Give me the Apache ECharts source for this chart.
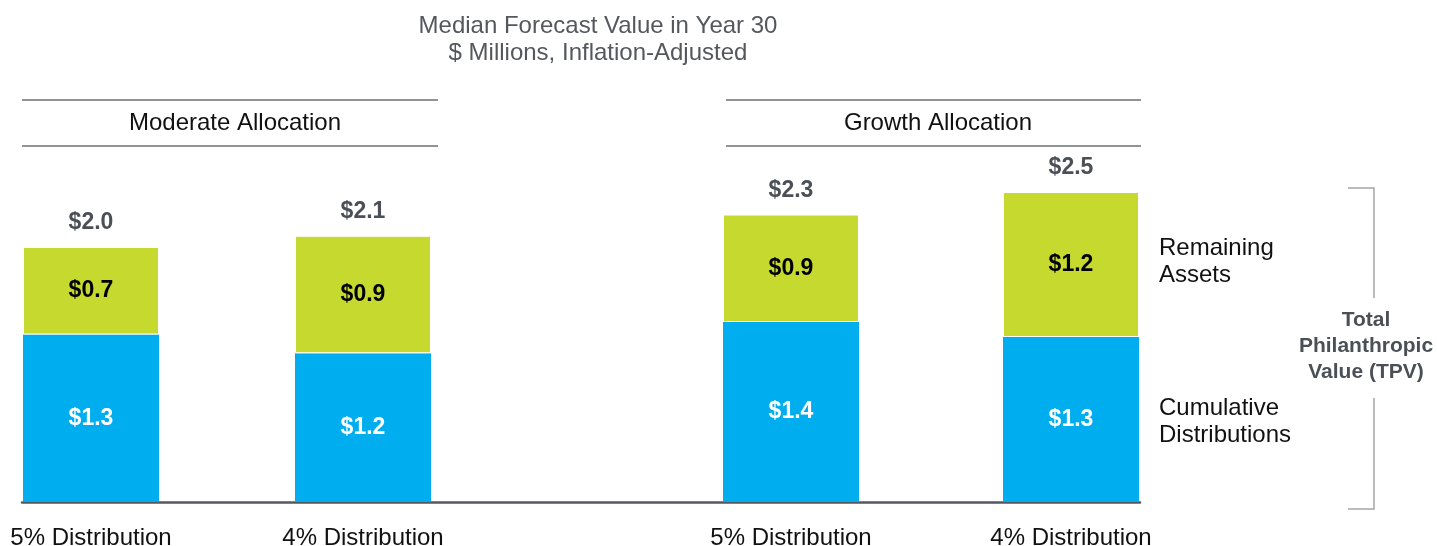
<!DOCTYPE html>
<html>
<head>
<meta charset="utf-8">
<script src="https://cdn.jsdelivr.net/npm/echarts@6/dist/echarts.min.js"></script>
<style>
  html, body { margin: 0; padding: 0; background: #fff; }
  #chart { width: 1437px; height: 546px; }
</style>
</head>
<body>
<div id="chart"></div>
<script>
  // data ($ millions)
  const categories = ['5% Distribution', '4% Distribution']
  const groups = ['Moderate Allocation', 'Growth Allocation']
  const cumulative = [[1.34, 1.19], [1.44, 1.32]]
  const remaining = [[0.70, 0.94], [0.86, 1.16]]

  const BLUE = '#00aeef'
  const GREEN = '#c6d92e'
  const GREY = '#4b5056'
  const FONT = 'Liberation Sans, Arial, sans-serif'

  const chart = echarts.init(document.getElementById('chart'))

  const money = (v) => '$' + v.toFixed(1)

  let series = []
  groups.forEach((g, gi) => {
    const totals = cumulative[gi].map((v, i) => +(v + remaining[gi][i]).toFixed(2))
    series.push({
      name: 'Cumulative Distributions',
      type: 'bar',
      stack: 'tpv' + gi,
      xAxisIndex: gi,
      yAxisIndex: gi,
      barWidth: 136,
      clip: false,
      itemStyle: { color: BLUE },
      label: {
        show: true,
        position: 'inside',
        formatter: (p) => money(p.value),
        color: '#fff',
        fontSize: 23,
        fontWeight: 'bold',
        fontFamily: FONT
      },
      data: cumulative[gi]
    })
    series.push({
      name: 'Remaining Assets',
      type: 'bar',
      stack: 'tpv' + gi,
      xAxisIndex: gi,
      yAxisIndex: gi,
      barWidth: 136,
      clip: false,
      itemStyle: { color: GREEN, borderColor: '#fff', borderWidth: 1 },
      label: {
        show: true,
        position: 'inside',
        formatter: (p) => money(p.value),
        color: '#000',
        fontSize: 23,
        fontWeight: 'bold',
        fontFamily: FONT
      },
      data: remaining[gi]
    })
    // totals on top of each bar (invisible line, labels only)
    series.push({
      name: 'Total',
      type: 'line',
      xAxisIndex: gi,
      yAxisIndex: gi,
      symbol: 'circle',
      symbolSize: 1,
      showSymbol: true,
      clip: false,
      z: 5,
      itemStyle: { color: 'rgba(0,0,0,0)' },
      lineStyle: { width: 0, color: 'rgba(0,0,0,0)' },
      label: {
        show: true,
        position: 'top',
        distance: 12,
        formatter: (p) => money(p.value),
        color: GREY,
        fontSize: 23,
        fontWeight: 'bold',
        fontFamily: FONT
      },
      data: totals
    })
  })

  // bars sit on the ends of each group's axis
  const catAxis = (gi) => ({
    type: 'category',
    gridIndex: gi,
    data: categories,
    boundaryGap: false,
    axisLine: { show: false },
    axisTick: { show: false },
    axisLabel: { color: '#111', fontSize: 24, fontFamily: FONT, margin: 24 }
  })
  const valAxis = (gi) => ({
    type: 'value', gridIndex: gi, min: 0, max: 3, show: false
  })

  const headerLine = (x1, x2, y) => ({
    type: 'line',
    shape: { x1: x1, y1: y, x2: x2, y2: y },
    style: { stroke: '#6d6f72', lineWidth: 1.5 }
  })
  const text = (x, y, t, opts) => ({
    type: 'text',
    x: x, y: y,
    style: Object.assign({
      text: t, fill: '#111', font: '24px ' + FONT,
      textAlign: 'left', textVerticalAlign: 'middle'
    }, opts || {})
  })

  const option = {
    animation: false,
    grid: [
      { left: 91, width: 272, top: 127, bottom: 44, outerBoundsMode: 'none' },
      { left: 791, width: 280, top: 127, bottom: 44, outerBoundsMode: 'none' },
      { left: 22, width: 1118, top: 127, bottom: 44, outerBoundsMode: 'none' }
    ],
    xAxis: [
      catAxis(0),
      catAxis(1),
      {
        type: 'category', gridIndex: 2, data: [''],
        axisLine: { lineStyle: { color: '#55595e', width: 2.5 } },
        axisTick: { show: false }, axisLabel: { show: false }
      }
    ],
    yAxis: [valAxis(0), valAxis(1), valAxis(2)],
    series: series,
    graphic: [
      text(598, 26, 'Median Forecast Value in Year 30', { fill: '#54585d', textAlign: 'center' }),
      text(598, 53, '$ Millions, Inflation-Adjusted', { fill: '#54585d', textAlign: 'center' }),
      headerLine(22, 438, 100),
      headerLine(22, 438, 146),
      headerLine(726, 1141, 100),
      headerLine(726, 1141, 146),
      text(235, 123, groups[0], { textAlign: 'center' }),
      text(938, 123, groups[1], { textAlign: 'center' }),
      text(1159, 248, 'Remaining'),
      text(1159, 275, 'Assets'),
      text(1159, 408, 'Cumulative'),
      text(1159, 435, 'Distributions'),
      {
        type: 'polyline',
        shape: { points: [[1348, 188], [1374, 188], [1374, 298]] },
        style: { stroke: '#a3a5a8', lineWidth: 1.5, fill: null }
      },
      {
        type: 'polyline',
        shape: { points: [[1374, 398], [1374, 509], [1348, 509]] },
        style: { stroke: '#a3a5a8', lineWidth: 1.5, fill: null }
      },
      text(1366, 320, 'Total', { fill: GREY, font: 'bold 21px ' + FONT, textAlign: 'center' }),
      text(1366, 346, 'Philanthropic', { fill: GREY, font: 'bold 21px ' + FONT, textAlign: 'center' }),
      text(1366, 372, 'Value (TPV)', { fill: GREY, font: 'bold 21px ' + FONT, textAlign: 'center' })
    ]
  }

  chart.setOption(option)
</script>
</body>
</html>
